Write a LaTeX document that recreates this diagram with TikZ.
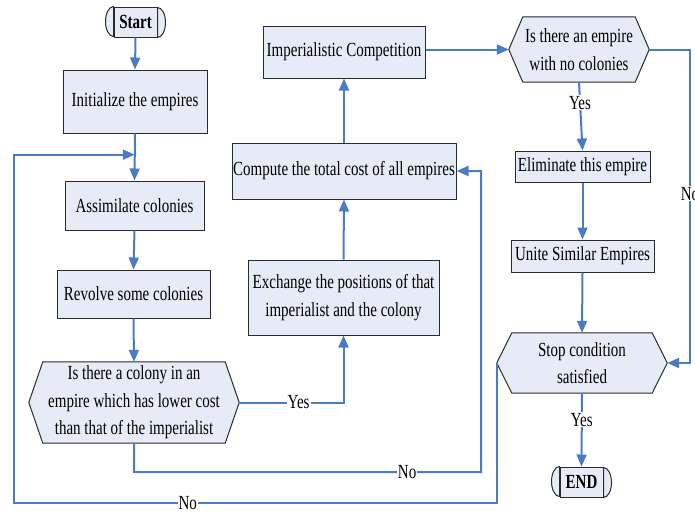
\documentclass[tikz,border=0pt]{standalone}
\usepackage{fontspec}
\setmainfont{Liberation Serif}[FakeStretch=0.75]
\usetikzlibrary{arrows.meta,backgrounds,calc}
\definecolor{boxfill}{HTML}{E6ECF7}
\definecolor{flowblue}{HTML}{4A7CC6}
\definecolor{boxline}{HTML}{2B2B2B}
\tikzset{
  txt/.style={font=\fontsize{20}{27.5}\selectfont, align=center, inner sep=0pt},
  procbox/.style={txt, draw=boxline, line width=1pt, fill=boxfill},
  outline/.style={draw=boxline, line width=1pt, fill=boxfill},
  flow/.style={draw=flowblue, line width=2pt, -{Triangle[length=12pt,width=10pt]}},
  link/.style={draw=flowblue, line width=2pt},
  lbl/.style={txt, fill=white, inner sep=1pt},
}
\begin{document}
\begin{tikzpicture}[x=1pt,y=-1pt]
\useasboundingbox (0,0) rectangle (695,512);
% terminals
\node[procbox, minimum width=43pt, minimum height=30pt] (start) at (135.5,22) {\textbf{Start}};
\node[procbox, minimum width=43pt, minimum height=30pt] (end) at (581.5,482) {\textbf{END}};
\foreach \t in {start,end}{
  \draw[outline] (\t.north west) arc[start angle=90,end angle=270,x radius=8pt,y radius=15pt] -- cycle;
  \draw[outline] (\t.south east) arc[start angle=-90,end angle=90,x radius=8pt,y radius=15pt] -- cycle;
}
% process boxes
\node[procbox, minimum width=144pt, minimum height=63pt] (init) at (135,101.5) {Initialize the empires};
\node[procbox, minimum width=139pt, minimum height=49pt] (assim) at (134.5,205.5) {Assimilate colonies};
\node[procbox, minimum width=153pt, minimum height=48pt] (revolve) at (133.5,294) {Revolve some colonies};
\node[procbox, minimum width=191pt, minimum height=75pt] (exch) at (343.5,297.5) {Exchange the positions of that\\imperialist and the colony};
\node[procbox, minimum width=224pt, minimum height=56pt] (comp) at (344,171) {Compute the total cost of all empires};
\node[procbox, minimum width=162pt, minimum height=52pt] (imper) at (344,52) {Imperialistic Competition};
\node[procbox, minimum width=135pt, minimum height=31pt] (elim) at (582.5,166.5) {Eliminate this empire};
\node[procbox, minimum width=143pt, minimum height=32pt] (unite) at (582.5,256) {Unite Similar Empires};
% decisions (hexagons)
\node[txt, minimum width=182pt, minimum height=81pt] (hexa) at (134,402.5) {Is there a colony in an\\empire which has lower cost\\than that of the imperialist};
\node[txt, minimum width=112pt, minimum height=65pt] (hexb) at (579,49.5) {Is there an empire\\with no colonies};
\node[txt, minimum width=140pt, minimum height=60pt] (hexc) at (582,363) {Stop condition\\satisfied};
\coordinate (hawest) at ($(hexa.west)+(-14,0)$);
\coordinate (haeast) at ($(hexa.east)+(14,0)$);
\coordinate (hbwest) at ($(hexb.west)+(-14,0)$);
\coordinate (hbeast) at ($(hexb.east)+(14,0)$);
\coordinate (hcwest) at ($(hexc.west)+(-15,0)$);
\coordinate (hceast) at ($(hexc.east)+(15,0)$);
\begin{scope}[on background layer]
\foreach \h/\w/\e in {hexa/hawest/haeast,hexb/hbwest/hbeast,hexc/hcwest/hceast}{
  \draw[outline] (\w) -- (\h.north west) -- (\h.north east) -- (\e) -- (\h.south east) -- (\h.south west) -- cycle;
}
\end{scope}
% connectors
\draw[flow] (start.south) -- (init.north);
\draw[flow] (init.south) -- (assim.north);
\draw[flow] (assim.south) -- (revolve.north);
\draw[flow] (revolve.south) -- (hexa.north);
\draw[flow] (exch.north) -- (comp.south);
\draw[flow] (comp.north) -- (imper.south);
\draw[flow] (imper.east |- hbwest) -- (hbwest);
\draw[flow] (hexb.south) -- node[lbl,pos=0.3]{Yes} (elim.north);
\draw[flow] (elim.south) -- (unite.north);
\draw[flow] (unite.south) -- (hexc.north);
\draw[flow] (hexc.south) -- node[lbl,pos=0.36]{Yes} (end.north);
% yes from first decision
\draw[flow] (haeast) -- node[lbl,pos=0.57]{Yes} (haeast -| exch.south) -- (exch.south);
% no from first decision
\coordinate (nobl) at ($(hexa.south)+(0,29)$);
\coordinate (nobr) at (481,472);
\draw[flow] (hexa.south) -- (nobl) -- node[lbl,pos=0.787]{No} (nobr) -- (nobr |- comp.east) -- (comp.east);
% no from empire decision
\coordinate (nbr) at (690,49.5);
\draw[flow] (hbeast) -- (nbr) -- node[lbl,pos=0.46]{No} (nbr |- hceast) -- (hceast);
% loop back
\coordinate (merge) at ($(init.south)!0.45!(assim.north)$);
\coordinate (lbr) at ($(hcwest)+(0,140)$);
\coordinate (lbl) at (14,503);
\draw[flow] (hcwest) -- (lbr) -- node[lbl,pos=0.64]{No} (lbr -| lbl) -- (lbl |- merge) -- (merge);
\end{tikzpicture}
\end{document}
